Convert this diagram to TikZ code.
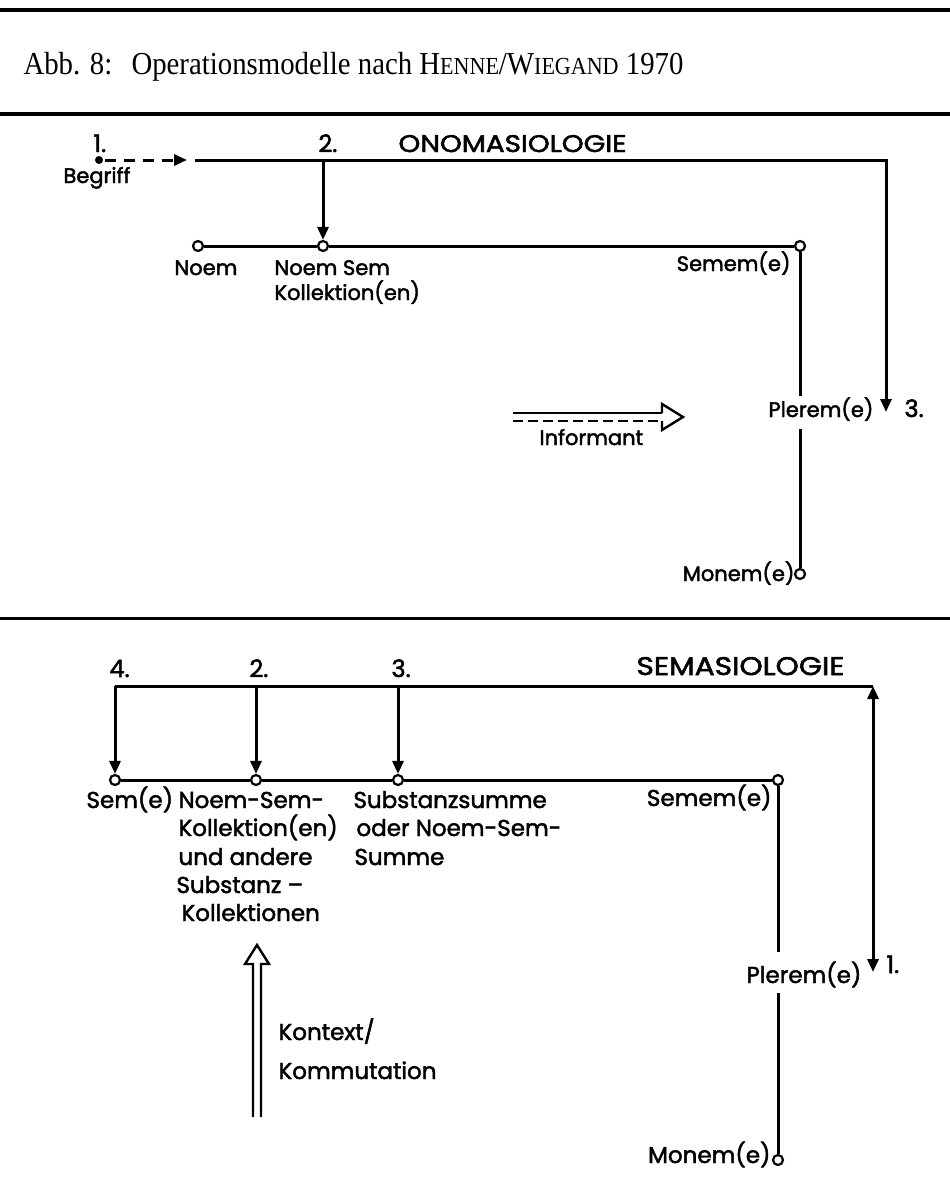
\documentclass[tikz,border=0pt]{standalone}
\usepackage{fontspec}
\usepackage{graphicx}
\setmainfont{Liberation Serif}
\newfontfamily\dfont{Poppins}[FakeBold=2]
\usetikzlibrary{arrows.meta}
\newcommand{\fakesc}[1]{{\fontsize{24.5}{25}\selectfont #1}}
\newcommand{\narrowtxt}[1]{\scalebox{0.9}[1]{#1}}
\begin{document}
\begin{tikzpicture}[x=1pt,y=-1pt, line width=3pt,
  lbl/.style={font=\dfont\fontsize{21}{25}\selectfont, inner sep=0pt},
  lblb/.style={font=\dfont\fontsize{23}{28}\selectfont, inner sep=0pt},
  num/.style={font=\dfont\fontsize{24}{25}\selectfont, inner sep=0pt},
  capsl/.style={font=\dfont\fontsize{23}{25}\selectfont, inner sep=0pt},
  ttl/.style={font=\fontsize{32}{34}\selectfont, inner sep=0pt},
  odot/.style={circle, draw, fill=white, line width=2.2pt, inner sep=0pt, minimum size=10pt},
  fdot/.style={circle, fill=black, inner sep=0pt, minimum size=8pt},
  tipst/.style={-{Triangle[length=13pt,width=11pt]}},
  tipboth/.style={{Triangle[length=13pt,width=11pt]}-{Triangle[length=13pt,width=11pt]}},
  rulest/.style={line width=3.5pt},
  hollow/.style={line width=2.4pt, line join=miter}
]
\useasboundingbox (0,0) rectangle (950,1200);
\fill[white] (0,0) rectangle (950,1200);

% header
\draw[rulest] (0,10) -- (950,10);
\draw[rulest] (0,114) -- (950,114);
\node[ttl, anchor=base west] (abb) at (22,74) {\narrowtxt{Abb. 8:}};
\node[ttl, anchor=base west] (titel) at (130,74) {\narrowtxt{Operationsmodelle nach H\fakesc{ENNE}/W\fakesc{IEGAND} 1970}};

% ---------- Onomasiologie ----------
\node[fdot] (begriff) at (99,160) {};
\node[num, anchor=base west] (n1) at (92,152) {1.};
\node[lbl, anchor=base west] (begriffL) at (62,183) {Begriff};
\coordinate (dashend) at (187,160);
\draw[tipst, dash pattern=on 11pt off 8pt] (begriff) -- (dashend);

\coordinate (hstart) at (195,160);
\coordinate (hend) at (886,412);
\draw[tipst] (hstart) -| (hend);
\node[num, anchor=base west] (n2) at (317,152) {2.};
\node[capsl, anchor=base west] (ono) at (397,152) {\resizebox{228pt}{17pt}{ONOMASIOLOGIE}};

\coordinate (a2) at (323,160);
\node[odot] (noemdot) at (198,246) {};
\node[odot] (nsdot) at (323,246) {};
\node[odot] (sememdot) at (800,246) {};
\draw[tipst] (a2) -- (nsdot);
\draw (noemdot) -- (nsdot) -- (sememdot);
\coordinate (pl1) at (800,396);
\coordinate (pl2) at (800,429);
\node[odot] (monemdot) at (800,574) {};
\draw (sememdot) -- (pl1);
\draw (pl2) -- (monemdot);

\node[lbl, anchor=base west] (noemL) at (173,275) {Noem};
\node[lbl, anchor=base west] (nsL1) at (273,275) {Noem Sem};
\node[lbl, anchor=base west] (nsL2) at (273,300) {Kollektion(en)};
\node[lbl, anchor=base east] (sememL) at (792,271) {Semem(e)};
\node[lbl, anchor=base west] (pleremL) at (767,417) {Plerem(e)};
\node[num, anchor=base west] (n3) at (903,417) {3.};
\node[lbl, anchor=base east] (monemL) at (796,581) {Monem(e)};
\node[lbl, anchor=base west] (infL) at (538,445) {Informant};

% Informant double arrow
\draw[line width=2.4pt] (513,413) -- (662,413);
\draw[line width=2.4pt, dash pattern=on 10pt off 5pt] (513,421) -- (662,421);
\draw[hollow] (662,413) -- (662,404) -- (683,417) -- (662,430) -- (662,421);

% separator
\draw[line width=3pt] (0,618) -- (950,618);

% ---------- Semasiologie ----------
\node[num, anchor=base west] (n4) at (108,677) {4.};
\node[num, anchor=base west] (n2b) at (248,677) {2.};
\node[num, anchor=base west] (n3b) at (390,677) {3.};
\node[capsl, anchor=base west] (sema) at (635,675) {\resizebox{208pt}{18pt}{SEMASIOLOGIE}};

\coordinate (bl) at (115,686);
\coordinate (b2) at (256,686);
\coordinate (b3) at (398,686);
\coordinate (br) at (873,686);
\draw (bl) -- (br);
\node[odot] (semdot) at (115,780) {};
\node[odot] (nsdotb) at (256,780) {};
\node[odot] (ssdot) at (398,780) {};
\node[odot] (sememdotb) at (778,780) {};
\draw[tipst] (bl) -- (semdot);
\draw[tipst] (b2) -- (nsdotb);
\draw[tipst] (b3) -- (ssdot);
\draw (semdot) -- (nsdotb) -- (ssdot) -- (sememdotb);
\coordinate (pl1b) at (778,952);
\coordinate (pl2b) at (778,993);
\node[odot] (monemdotb) at (778,1160) {};
\draw (sememdotb) -- (pl1b);
\draw (pl2b) -- (monemdotb);
\coordinate (r1) at (873,972);
\draw[tipboth] (r1) -- (br);

\node[lblb, anchor=base west] (semL) at (85,808) {Sem(e)};
\node[lblb, anchor=base west] (k1) at (177,808) {Noem-Sem-};
\node[lblb, anchor=base west] (k2) at (177,836) {Kollektion(en)};
\node[lblb, anchor=base west] (k3) at (177,865) {und andere};
\node[lblb, anchor=base west] (k4) at (175,893) {Substanz –};
\node[lblb, anchor=base west] (k5) at (180,921) {Kollektionen};
\node[lblb, anchor=base west] (s1) at (352,808) {Substanzsumme};
\node[lblb, anchor=base west] (s2) at (355,836) {oder Noem-Sem-};
\node[lblb, anchor=base west] (s3) at (353,865) {Summe};
\node[lblb, anchor=base east] (sememLb) at (773,806) {Semem(e)};
\node[lblb, anchor=base west] (pleremLb) at (745,983) {Plerem(e)};
\node[num, anchor=base west] (n1b) at (885,973) {1.};
\node[lblb, anchor=base east] (monemLb) at (772,1163) {Monem(e)};
\node[lblb, anchor=base west] (kontext) at (277,1040) {Kontext/};
\node[lblb, anchor=base west] (kommut) at (277,1079) {Kommutation};

% Kontext hollow arrow
\draw[hollow] (253,1117) -- (253,964) -- (245,964) -- (257,945) -- (269,964) -- (261,964) -- (261,1117);
\end{tikzpicture}
\end{document}
